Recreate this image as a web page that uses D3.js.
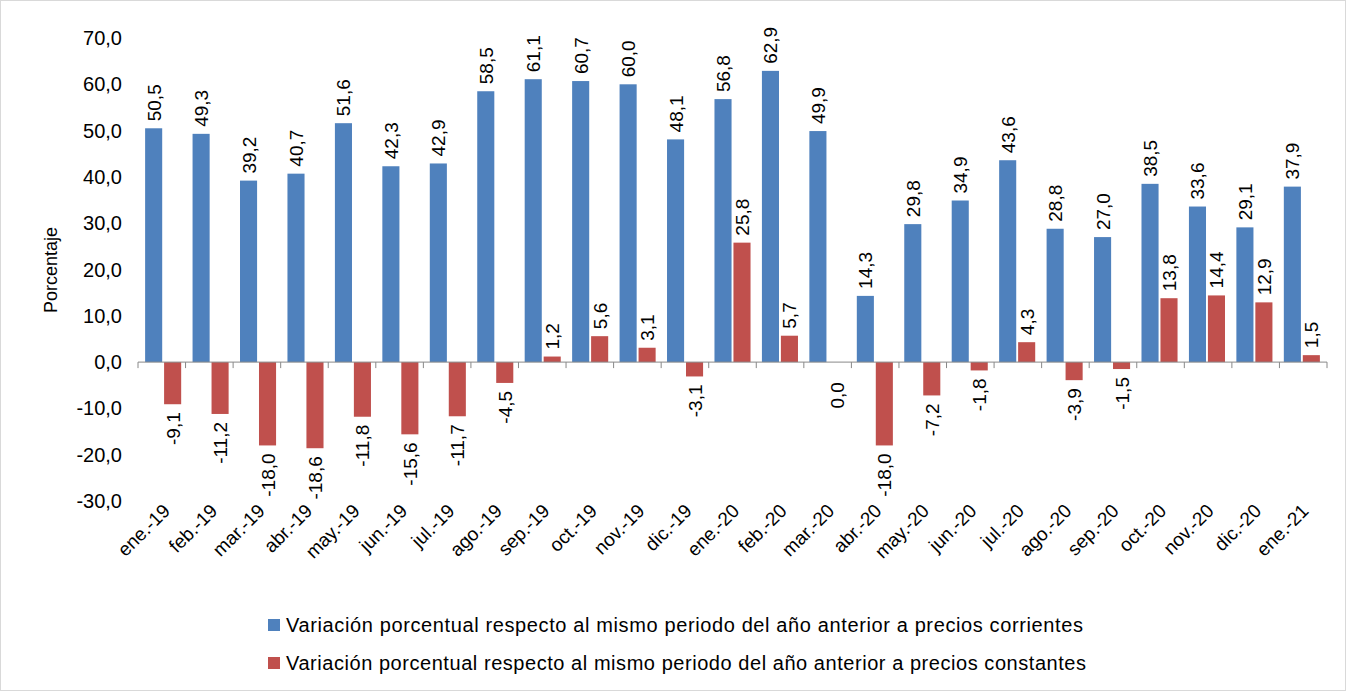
<!DOCTYPE html>
<html><head><meta charset="utf-8">
<script src="https://cdn.jsdelivr.net/npm/d3@7"></script>
<style>body{margin:0;background:#fff;font-family:"Liberation Sans",Arial,sans-serif}</style>
</head><body><svg id="c"></svg>
<script>
const categories = ["ene.-19","feb.-19","mar.-19","abr.-19","may.-19","jun.-19","jul.-19","ago.-19","sep.-19","oct.-19","nov.-19","dic.-19","ene.-20","feb.-20","mar.-20","abr.-20","may.-20","jun.-20","jul.-20","ago.-20","sep.-20","oct.-20","nov.-20","dic.-20","ene.-21"];
const corrientes = [50.5,49.3,39.2,40.7,51.6,42.3,42.9,58.5,61.1,60.7,60.0,48.1,56.8,62.9,49.9,14.3,29.8,34.9,43.6,28.8,27.0,38.5,33.6,29.1,37.9];
const constantes = [-9.1,-11.2,-18.0,-18.6,-11.8,-15.6,-11.7,-4.5,1.2,5.6,3.1,-3.1,25.8,5.7,0.0,-18.0,-7.2,-1.8,4.3,-3.9,-1.5,13.8,14.4,12.9,1.5];
const yTicks = [-30,-20,-10,0,10,20,30,40,50,60,70];
const seriesNames = ["Variación porcentual respecto al mismo periodo del año anterior a precios corrientes","Variación porcentual respecto al mismo periodo del año anterior a precios constantes"];
const colors = ["#4F81BD","#C0504D"];

const W = 1346, H = 691;
const svg = d3.select("#c").attr("width", W).attr("height", H);
svg.append("rect").attr("x",0.5).attr("y",0.5).attr("width",W-1).attr("height",H-1).attr("fill","#fff").attr("stroke","#d9d9d9");

const left = 138, right = 1327;
const x = d3.scaleBand().domain(categories).range([left, right]).paddingInner(0.24).paddingOuter(0.15);
const sub = d3.scaleBand().domain([0,1]).range([0, x.bandwidth()]).paddingInner(0.1);
const y = d3.scaleLinear().domain([-30,70]).range([501, 38]);
const fmt = v => v.toFixed(1).replace(".", ",");

svg.append("g").selectAll("text").data(yTicks).join("text")
  .attr("x", 122).attr("y", d => y(d)).attr("dy","0.35em").attr("text-anchor","end")
  .attr("font-size",20).text(fmt);
svg.append("text").attr("transform",`translate(57,270) rotate(-90)`).attr("text-anchor","middle")
  .attr("font-size",18).text("Porcentaje");

const series = [corrientes, constantes];
series.forEach((vals, s) => {
  const g = svg.append("g");
  g.selectAll("rect").data(vals).join("rect")
    .attr("x", (d,i) => x(categories[i]) + sub(s))
    .attr("width", sub.bandwidth())
    .attr("y", d => y(Math.max(0,d)))
    .attr("height", d => Math.abs(y(d) - y(0)))
    .attr("fill", colors[s]);
  g.selectAll("text").data(vals).join("text")
    .attr("transform", (d,i) => {
      const cx = x(categories[i]) + sub(s) + sub.bandwidth()/2 + 7;
      const cy = d > 0 ? y(d) - 7 : y(Math.min(d,0)) + 8 + (d === 0 ? 12 : 0);
      return `translate(${cx},${cy}) rotate(-90)`;
    })
    .attr("text-anchor", d => d > 0 ? "start" : "end")
    .attr("font-size",19).text(fmt);
});

svg.append("line").attr("x1",left).attr("x2",right).attr("y1",y(0)).attr("y2",y(0)).attr("stroke","#888");
svg.append("g").selectAll("line").data(d3.range(categories.length+1)).join("line")
  .attr("x1", i => left + i*(right-left)/categories.length).attr("x2", i => left + i*(right-left)/categories.length)
  .attr("y1", y(0)).attr("y2", y(0)+6).attr("stroke","#888");

svg.append("g").selectAll("text").data(categories).join("text")
  .attr("transform", d => `translate(${x(d)+x.bandwidth()/2+8},${512}) rotate(-45)`)
  .attr("text-anchor","end").attr("font-size",19).text(d => d);

seriesNames.forEach((n, i) => {
  const ly = 625 + i*38;
  svg.append("rect").attr("x",268).attr("y",ly-6).attr("width",12).attr("height",12).attr("fill",colors[i]);
  svg.append("text").attr("x",286).attr("y",ly).attr("dy","0.35em").attr("font-size",20).attr("textLength", i === 0 ? 797 : 800).text(n);
});
</script></body></html>
